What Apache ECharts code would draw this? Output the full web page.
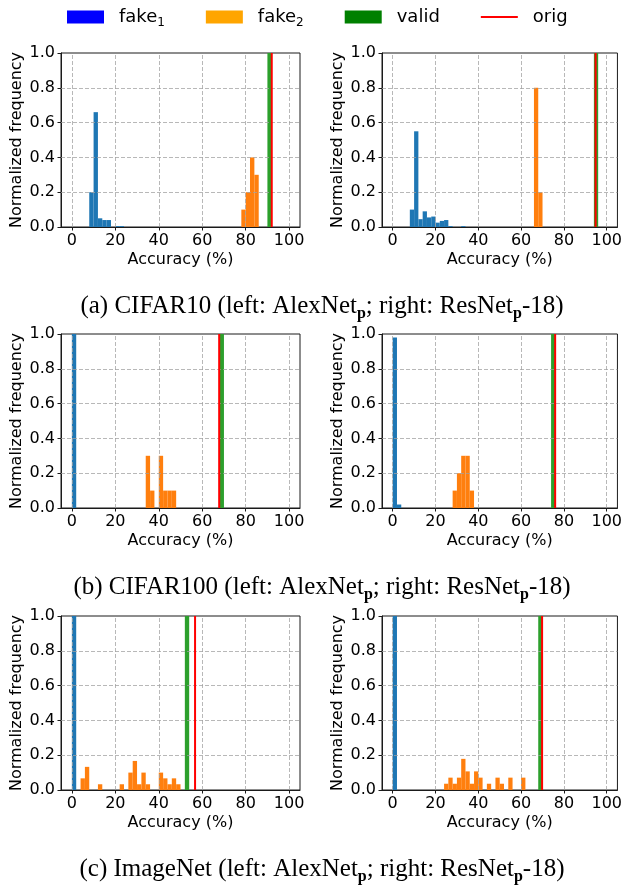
<!DOCTYPE html>
<html>
<head>
<meta charset="utf-8">
<script src="https://cdn.jsdelivr.net/npm/echarts@6/dist/echarts.min.js"></script>
<style>
  html, body { margin: 0; padding: 0; background: #fff; }
  #chart { width: 625px; height: 886px; }
</style>
</head>
<body>
<div id="chart"></div>
<script>
// Histogram bins are 2 % wide; each pair is [bin start (%), normalized frequency].
const binWidth = 2;
const xTicks = [0, 20, 40, 60, 80, 100];
const yTicks = [0, 0.2, 0.4, 0.6, 0.8, 1.0];

// (a) CIFAR10 — AlexNet_p
const c10AlexFake1 = [[8, 0.2], [10, 0.66], [12, 0.05], [14, 0.04], [16, 0.04], [20, 0.005], [22, 0.005]];
const c10AlexFake2 = [[78, 0.1], [80, 0.2], [82, 0.4], [84, 0.3]];
const c10AlexValid = [[90, 1.0]];
const c10AlexOrig = 92;

// (a) CIFAR10 — ResNet_p-18
const c10ResFake1 = [[8, 0.1], [10, 0.55], [12, 0.045], [14, 0.09], [16, 0.055], [18, 0.06], [20, 0.025], [22, 0.035], [24, 0.04], [26, 0.005], [32, 0.005]];
const c10ResFake2 = [[66, 0.8], [68, 0.2]];
const c10ResValid = [[94, 1.0]];
const c10ResOrig = 94.8;

// (b) CIFAR100 — AlexNet_p
const c100AlexFake1 = [[0, 1.0]];
const c100AlexFake2 = [[34, 0.3], [36, 0.1], [40, 0.3], [42, 0.1], [44, 0.1], [46, 0.1]];
const c100AlexValid = [[68, 1.0]];
const c100AlexOrig = 67.8;

// (b) CIFAR100 — ResNet_p-18
const c100ResFake1 = [[0, 0.98], [2, 0.02]];
const c100ResFake2 = [[28, 0.1], [30, 0.2], [32, 0.3], [34, 0.3], [36, 0.1]];
const c100ResValid = [[74, 1.0]];
const c100ResOrig = 75.9;

// (c) ImageNet — AlexNet_p
const inAlexFake1 = [[0, 1.0]];
const inAlexFake2 = [[4, 0.067], [6, 0.133], [12, 0.033], [22, 0.033], [26, 0.1], [28, 0.167], [30, 0.033], [32, 0.1], [34, 0.033], [40, 0.1], [42, 0.067], [44, 0.033], [46, 0.067], [48, 0.033]];
const inAlexValid = [[52, 1.0]];
const inAlexOrig = 56.7;

// (c) ImageNet — ResNet_p-18
const inResFake1 = [[0, 1.0]];
const inResFake2 = [[24, 0.036], [26, 0.071], [28, 0.036], [30, 0.071], [32, 0.179], [34, 0.107], [36, 0.036], [38, 0.107], [40, 0.071], [44, 0.036], [48, 0.071], [50, 0.036], [54, 0.071], [60, 0.071]];
const inResValid = [[68, 1.0]];
const inResOrig = 69.8;

const captions = [
  '(a) CIFAR10 (left: AlexNet{p|p}; right: ResNet{p|p}-18)',
  '(b) CIFAR100 (left: AlexNet{p|p}; right: ResNet{p|p}-18)',
  '(c) ImageNet (left: AlexNet{p|p}; right: ResNet{p|p}-18)'
];

const panels = [
  { fake1: c10AlexFake1, fake2: c10AlexFake2, valid: c10AlexValid, orig: c10AlexOrig },
  { fake1: c10ResFake1, fake2: c10ResFake2, valid: c10ResValid, orig: c10ResOrig },
  { fake1: c100AlexFake1, fake2: c100AlexFake2, valid: c100AlexValid, orig: c100AlexOrig },
  { fake1: c100ResFake1, fake2: c100ResFake2, valid: c100ResValid, orig: c100ResOrig },
  { fake1: inAlexFake1, fake2: inAlexFake2, valid: inAlexValid, orig: inAlexOrig },
  { fake1: inResFake1, fake2: inResFake2, valid: inResValid, orig: inResOrig }
];

// layout of the 3 x 2 panel grid
const colLeft = [61, 382];
const rowTop = [53, 334, 616];
const panelW = 239, panelH = 174;
const captionTop = [289, 570, 852];

const sans = 'DejaVu Sans';
const serif = 'Liberation Serif';
const barColors = { fake1: '#1f77b4', fake2: '#ff7f0e', valid: '#2ca02c' };
const origColor = '#ff0000';

// one histogram bin: a rectangle from [start, 0] to [start + binWidth, freq]
function renderBin(params, api) {
  const x0 = api.value(0);
  const h = api.value(1);
  const p0 = api.coord([x0, 0]);
  const p1 = api.coord([x0 + binWidth, h]);
  return {
    type: 'rect',
    shape: { x: p0[0], y: p1[1], width: p1[0] - p0[0], height: p0[1] - p1[1] },
    style: { fill: api.visual('color') }
  };
}

// vertical reference line spanning the whole frequency range
function renderOrig(params, api) {
  const x = api.value(0);
  const p0 = api.coord([x, 0]);
  const p1 = api.coord([x, 1]);
  return {
    type: 'line',
    shape: { x1: p0[0], y1: p0[1], x2: p1[0], y2: p1[1] },
    style: { stroke: origColor, lineWidth: 2 }
  };
}

const grids = [], xAxes = [], yAxes = [], series = [];
panels.forEach((p, i) => {
  const row = Math.floor(i / 2), col = i % 2;
  grids.push({
    left: colLeft[col], top: rowTop[row], width: panelW, height: panelH,
    show: true, borderColor: '#1a1a1a', borderWidth: 1, backgroundColor: 'transparent'
  });
  xAxes.push({
    type: 'value', gridIndex: i, min: -5, max: 105,
    name: 'Accuracy (%)', nameLocation: 'middle', nameGap: 25,
    nameTextStyle: { fontFamily: sans, fontSize: 16, color: '#000' },
    axisLine: { show: true, onZero: false, lineStyle: { color: '#1a1a1a', width: 1 } },
    axisTick: { show: true, length: 3.5, customValues: xTicks, lineStyle: { color: '#1a1a1a' } },
    axisLabel: { customValues: xTicks, fontFamily: sans, fontSize: 16, color: '#000', margin: 6 },
    splitLine: { show: false }
  });
  yAxes.push({
    type: 'value', gridIndex: i, min: 0, max: 1, interval: 0.2,
    name: 'Normalized frequency', nameLocation: 'middle', nameGap: 36,
    nameTextStyle: { fontFamily: sans, fontSize: 16, color: '#000' },
    axisLine: { show: true, onZero: false, lineStyle: { color: '#1a1a1a', width: 1 } },
    axisTick: { show: true, length: 3.5, lineStyle: { color: '#1a1a1a' } },
    axisLabel: { fontFamily: sans, fontSize: 16, color: '#000', margin: 6,
                 formatter: v => v.toFixed(1) },
    splitLine: { show: false }
  });
  ['fake1', 'fake2', 'valid'].forEach(key => {
    series.push({
      type: 'custom', name: key, xAxisIndex: i, yAxisIndex: i,
      renderItem: renderBin, clip: true, z: 2,
      itemStyle: { color: barColors[key] },
      data: p[key]
    });
  });
  // dashed grid drawn above the bars
  series.push({
    type: 'line', xAxisIndex: i, yAxisIndex: i, data: [], z: 3,
    markLine: {
      silent: true, symbol: 'none', animation: false, label: { show: false },
      lineStyle: { color: 'rgba(160,160,160,0.75)', type: [4, 2], width: 1 },
      data: xTicks.map(v => ({ xAxis: v })).concat(
            yTicks.filter(v => v > 0 && v < 1).map(v => ({ yAxis: v })))
    }
  });
  series.push({
    type: 'custom', name: 'orig', xAxisIndex: i, yAxisIndex: i, z: 10,
    renderItem: renderOrig, clip: true,
    itemStyle: { color: origColor },
    data: [[p.orig]]
  });
});

const titles = captions.map((t, r) => ({
  text: t, left: 317, top: captionTop[r], textAlign: 'center',
  textStyle: {
    fontFamily: serif, fontSize: 25, fontWeight: 'normal', color: '#000', lineHeight: 25,
    rich: { p: { fontFamily: serif, fontSize: 16, fontWeight: 'bold', color: '#000', lineHeight: 16, padding: [14, 0, 0, 0] } }
  }
}));

const legendLabels = { fake1: '{t|fake}{s|1}', fake2: '{t|fake}{s|2}', valid: '{t|valid}', orig: '{t|orig}' };

const chart = echarts.init(document.getElementById('chart'), null, { renderer: 'canvas' });
chart.setOption({
  backgroundColor: '#fff',
  animation: false,
  title: titles,
  legend: {
    left: 62, top: 0, itemWidth: 37, itemHeight: 13, itemGap: 41, selectedMode: false,
    formatter: name => legendLabels[name],
    textStyle: {
      fontFamily: sans, fontSize: 18, color: '#000', padding: [0, 0, 0, 10],
      rich: {
        t: { fontFamily: sans, fontSize: 18, color: '#000', lineHeight: 18 },
        s: { fontFamily: sans, fontSize: 12, color: '#000', lineHeight: 12, padding: [12, 0, 0, 0] }
      }
    },
    data: [
      { name: 'fake1', icon: 'rect', itemStyle: { color: '#0000ff' } },
      { name: 'fake2', icon: 'rect', itemStyle: { color: '#ffa500' } },
      { name: 'valid', icon: 'rect', itemStyle: { color: '#008000' } },
      { name: 'orig', icon: 'path://M0,0H40V2H0Z', itemStyle: { color: origColor } }
    ]
  },
  grid: grids,
  xAxis: xAxes,
  yAxis: yAxes,
  series: series
});
</script>
</body>
</html>
